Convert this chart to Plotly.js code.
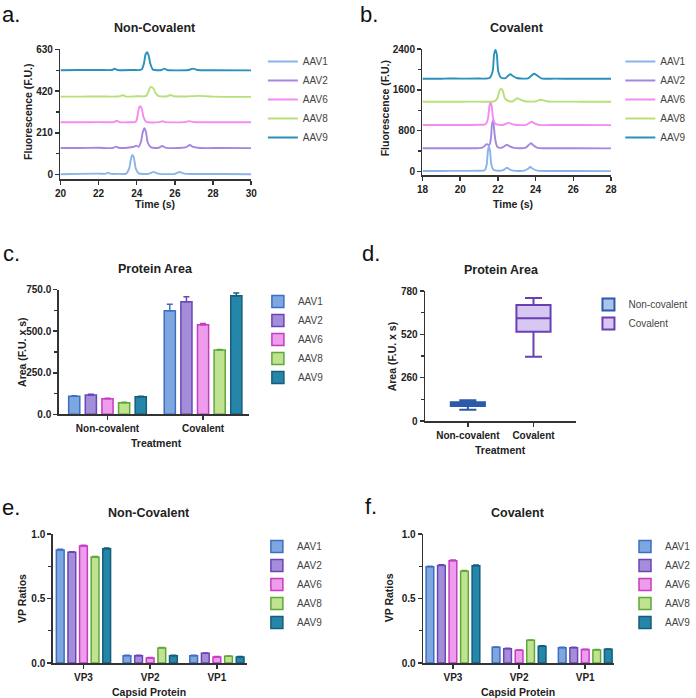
<!DOCTYPE html>
<html>
<head>
<meta charset="utf-8">
<script src="https://cdn.plot.ly/plotly-3.0.1.min.js"></script>
<style>html,body{margin:0;padding:0;background:#fff;}#chart{width:696px;height:698px;}</style>
</head>
<body>
<div id="chart"></div>
<script>
// ---------- DATA ----------
var serotypes = ['AAV1', 'AAV2', 'AAV6', 'AAV8', 'AAV9'];

// Panel a: Non-Covalent electropherograms (time s, fluorescence F.U., stacked)
var aTime1 = [20, 21, 22, 22.35, 22.5, 22.65, 23, 23.45, 23.6, 23.7, 23.77, 23.85, 23.95, 24.1, 24.6, 24.75, 24.88, 25.0, 25.2, 26.0, 26.12, 26.24, 26.36, 26.6, 27.5, 28.5, 30];
var aFlu1  = [2, 4, 5, 4, 10, 4, 4, 5, 30, 80, 99, 85, 30, 6, 4, 9, 14, 9, 4, 4, 9, 13, 9, 4, 3, 3, 2];
var aTime2 = [20, 21, 22, 22.75, 22.9, 23.05, 23.5, 23.85, 23.97, 24.1, 24.22, 24.32, 24.4, 24.48, 24.58, 24.75, 25.15, 25.34, 25.5, 26.2, 26.6, 26.78, 26.95, 27.3, 28.5, 30];
var aFlu2  = [134, 134, 135, 134, 141, 135, 135, 140, 146, 140, 165, 215, 233, 215, 160, 137, 135, 144, 136, 134, 138, 149, 139, 134, 134, 133];
var aTime6 = [20, 21, 22, 22.8, 22.94, 23.1, 23.6, 23.95, 24.05, 24.12, 24.19, 24.27, 24.35, 24.5, 25.2, 25.35, 25.5, 26.5, 26.75, 27.0, 28, 30];
var aFlu6  = [263, 263, 264, 264, 271, 264, 263, 266, 300, 335, 344, 330, 290, 265, 264, 268, 264, 264, 269, 264, 263, 263];
var aTime8 = [20, 21, 22, 23, 23.3, 23.4, 24, 24.5, 24.62, 24.7, 24.78, 24.88, 24.98, 25.15, 25.6, 25.76, 25.95, 26.6, 27.27, 28, 30];
var aFlu8  = [392, 392, 393, 393, 399, 393, 394, 396, 420, 438, 441, 432, 410, 395, 394, 400, 394, 393, 396, 392, 391];
var aTime9 = [20, 21, 22, 22.7, 22.84, 23, 23.8, 24.25, 24.38, 24.46, 24.54, 24.62, 24.72, 24.85, 25.3, 25.45, 25.6, 26.7, 26.96, 27.2, 28, 30];
var aFlu9  = [525, 526, 526, 526, 532, 526, 526, 528, 560, 605, 616, 600, 555, 528, 526, 533, 526, 526, 533, 526, 525, 524];

// Panel b: Covalent electropherograms
var bTime1 = [18, 19, 20, 21, 21.3, 21.4, 21.47, 21.52, 21.58, 21.66, 21.78, 22.2, 22.36, 22.48, 22.6, 22.8, 23.4, 23.6, 23.72, 23.84, 24.1, 25, 26, 28];
var bFlu1  = [6, 6, 8, 10, 20, 120, 400, 496, 400, 120, 25, 12, 40, 71, 40, 12, 12, 50, 84, 50, 12, 6, 5, 4];
var bTime2 = [18, 19, 20, 21, 21.2, 21.41, 21.55, 21.63, 21.68, 21.73, 21.78, 21.85, 21.97, 22.2, 22.36, 22.48, 22.6, 22.85, 23.45, 23.62, 23.75, 23.88, 24.1, 25, 26, 28];
var bFlu2  = [451, 451, 452, 455, 470, 530, 520, 650, 900, 987, 900, 650, 480, 462, 495, 522, 495, 460, 458, 510, 549, 510, 460, 452, 451, 450];
var bTime6 = [18, 19, 20, 21, 21.35, 21.47, 21.55, 21.61, 21.67, 21.75, 21.88, 22.3, 22.45, 22.56, 22.68, 22.9, 23.5, 23.66, 23.79, 23.92, 24.15, 25, 26, 28];
var bFlu6  = [908, 908, 909, 912, 925, 1030, 1280, 1366, 1280, 1030, 925, 912, 935, 954, 935, 912, 912, 945, 973, 945, 912, 908, 907, 906];
var bTime8 = [18, 19, 20, 21, 21.8, 21.98, 22.08, 22.17, 22.26, 22.36, 22.55, 22.8, 22.93, 23.05, 23.17, 23.4, 24.0, 24.15, 24.28, 24.41, 24.65, 25.5, 26.5, 28];
var bFlu8  = [1366, 1366, 1366, 1368, 1372, 1440, 1580, 1621, 1580, 1440, 1380, 1375, 1410, 1432, 1410, 1375, 1370, 1392, 1405, 1392, 1370, 1367, 1366, 1365];
var bTime9 = [18, 19, 19.4, 20, 21, 21.55, 21.72, 21.8, 21.87, 21.94, 22.02, 22.18, 22.4, 22.54, 22.66, 22.78, 23.0, 23.6, 23.8, 23.93, 24.06, 24.3, 25, 26, 28];
var bFlu9  = [1817, 1817, 1822, 1818, 1820, 1830, 1960, 2300, 2380, 2300, 1960, 1835, 1830, 1875, 1903, 1875, 1830, 1825, 1885, 1915, 1885, 1825, 1818, 1817, 1816];

// Panel c: Protein Area by treatment (mean, error)
var treatments = ['Non-covalent', 'Covalent'];
var areaAAV1 = [108, 624], areaErrAAV1 = [4, 38];
var areaAAV2 = [116, 678], areaErrAAV2 = [4, 30];
var areaAAV6 = [94, 539],  areaErrAAV6 = [3, 8];
var areaAAV8 = [70, 387],  areaErrAAV8 = [3, 3];
var areaAAV9 = [106, 714], areaErrAAV9 = [3, 16];

// Panel d: box summary (F.U. x s)
var boxLower  = [68, 386];
var boxQ1     = [90, 536];
var boxMedian = [100, 616];
var boxQ3     = [112, 696];
var boxUpper  = [124, 738];

// Panels e, f: VP ratios
var capsid = ['VP3', 'VP2', 'VP1'];
var ncAAV1 = [0.876, 0.057, 0.057];
var ncAAV2 = [0.858, 0.057, 0.075];
var ncAAV6 = [0.907, 0.039, 0.047];
var ncAAV8 = [0.821, 0.117, 0.052];
var ncAAV9 = [0.886, 0.057, 0.047];
var cvAAV1 = [0.746, 0.122, 0.119];
var cvAAV2 = [0.756, 0.111, 0.119];
var cvAAV6 = [0.793, 0.098, 0.104];
var cvAAV8 = [0.712, 0.176, 0.101];
var cvAAV9 = [0.754, 0.130, 0.106];
var vpErr  = [0.006, 0.004, 0.004];

// ---------- STYLE ----------
var W = 696, H = 698;
function px(x) { return x / W; }
function py(y) { return 1 - y / H; }
var FONT = 'Liberation Sans, Arial, Helvetica, sans-serif';
var lineColors = ['#8ab4e8', '#a487e0', '#f28cf0', '#b5e07a', '#2a90bd'];
var fillColors = ['#7ea6df', '#a58ed8', '#ee9ded', '#bfe391', '#2487aa'];
var edgeColors = ['#3d6ec4', '#6b44b9', '#c43cc0', '#5ea83a', '#155d7a'];

var traces = [];
var aT = [aTime1, aTime2, aTime6, aTime8, aTime9], aF = [aFlu1, aFlu2, aFlu6, aFlu8, aFlu9];
var bT = [bTime1, bTime2, bTime6, bTime8, bTime9], bF = [bFlu1, bFlu2, bFlu6, bFlu8, bFlu9];
for (var i = 0; i < 5; i++) {
  traces.push({type: 'scatter', mode: 'lines', x: aT[i], y: aF[i], name: serotypes[i],
    line: {color: lineColors[i], width: 1.9, shape: 'spline', smoothing: 0.7},
    xaxis: 'x', yaxis: 'y', legend: 'legend'});
}
for (var i = 0; i < 5; i++) {
  traces.push({type: 'scatter', mode: 'lines', x: bT[i], y: bF[i], name: serotypes[i],
    line: {color: lineColors[i], width: 1.9, shape: 'spline', smoothing: 0.7},
    xaxis: 'x2', yaxis: 'y2', legend: 'legend2'});
}
var areaVals = [areaAAV1, areaAAV2, areaAAV6, areaAAV8, areaAAV9];
var areaErrs = [areaErrAAV1, areaErrAAV2, areaErrAAV6, areaErrAAV8, areaErrAAV9];
for (var i = 0; i < 5; i++) {
  traces.push({type: 'bar', x: treatments, y: areaVals[i], name: serotypes[i],
    marker: {color: fillColors[i], line: {color: edgeColors[i], width: 1.5}},
    error_y: {type: 'data', array: areaErrs[i], arrayminus: [0, 0], symmetric: false,
      color: edgeColors[i], thickness: 1.5, width: 3},
    xaxis: 'x3', yaxis: 'y3', legend: 'legend3'});
}
var boxFill = ['#aac4ea', '#d6c8f0'], boxLine = ['#2b5ba8', '#6a3fb5'];
for (var j = 0; j < 2; j++) {
  traces.push({type: 'box', x: [treatments[j]], q1: [boxQ1[j]], median: [boxMedian[j]], q3: [boxQ3[j]],
    lowerfence: [boxLower[j]], upperfence: [boxUpper[j]], name: treatments[j],
    fillcolor: boxFill[j], line: {color: boxLine[j], width: 2}, width: 0.52, whiskerwidth: 0.5,
    boxpoints: false, hoverinfo: 'skip',
    xaxis: 'x4', yaxis: 'y4', legend: 'legend4'});
}
var ncVals = [ncAAV1, ncAAV2, ncAAV6, ncAAV8, ncAAV9];
var cvVals = [cvAAV1, cvAAV2, cvAAV6, cvAAV8, cvAAV9];
for (var i = 0; i < 5; i++) {
  traces.push({type: 'bar', x: capsid, y: ncVals[i], name: serotypes[i],
    marker: {color: fillColors[i], line: {color: edgeColors[i], width: 1.5}},
    error_y: {type: 'data', array: vpErr, arrayminus: [0, 0, 0], symmetric: false,
      color: edgeColors[i], thickness: 1.2, width: 3},
    xaxis: 'x5', yaxis: 'y5', legend: 'legend5'});
}
for (var i = 0; i < 5; i++) {
  traces.push({type: 'bar', x: capsid, y: cvVals[i], name: serotypes[i],
    marker: {color: fillColors[i], line: {color: edgeColors[i], width: 1.5}},
    error_y: {type: 'data', array: vpErr, arrayminus: [0, 0, 0], symmetric: false,
      color: edgeColors[i], thickness: 1.2, width: 3},
    xaxis: 'x6', yaxis: 'y6', legend: 'legend6'});
}

// ---------- AXES ----------
var tickFont = {family: FONT, size: 10, color: '#222', weight: 700};
function ax(extra) {
  var base = {showgrid: false, zeroline: false, showline: true, linecolor: '#333', linewidth: 1.5,
    ticks: 'outside', ticklen: 4, tickwidth: 1.5, tickcolor: '#333', tickfont: tickFont,
    fixedrange: true};
  for (var k in extra) base[k] = extra[k];
  return base;
}
function minor(d) { return {dtick: d, ticks: 'outside', ticklen: 3, tickwidth: 1.2, tickcolor: '#333'}; }

function legendAt(textX, topY) {
  return {x: px(textX - 40), y: py(topY), xanchor: 'left', yanchor: 'top',
    bgcolor: 'rgba(0,0,0,0)', borderwidth: 0,
    font: {family: FONT, size: 10, color: '#444'}};
}

function ann(text, x, y, size, bold, angle, color) {
  return {text: text, x: px(x), y: py(y), xref: 'paper', yref: 'paper', showarrow: false,
    xanchor: 'center', yanchor: 'middle', textangle: angle || 0,
    font: {family: FONT, size: size, color: color || '#222', weight: bold ? 700 : 400}};
}
function letter(text, x, y) {
  var a = ann(text, x, y, 22, false, 0, '#111');
  a.xanchor = 'left';
  return a;
}

var annotations = [
  letter('a.', 0, 15), letter('b.', 360, 15), letter('c.', 1, 254),
  letter('d.', 362, 253), letter('e.', 0, 507), letter('f.', 365, 506),
  ann('Non-Covalent', 156, 28, 12.5, true), ann('Covalent', 519, 28, 12.5, true),
  ann('Protein Area', 156, 269, 12.5, true), ann('Protein Area', 504, 270, 12.5, true),
  ann('Non-Covalent', 150, 513, 12.5, true), ann('Covalent', 520, 513, 12.5, true),
  ann('Time (s)', 156, 204, 10.5, true), ann('Time (s)', 515, 204, 10.5, true),
  ann('Fluorescence (F.U.)', 28, 112, 10.5, true, -90), ann('Fluorescence (F.U.)', 387, 108, 10.5, true, -90),
  ann('Treatment', 157, 443, 10.5, true), ann('Treatment', 503, 450, 10.5, true),
  ann('Area (F.U. x s)', 22, 352, 10.5, true, -90), ann('Area (F.U. x s)', 394, 357, 10.5, true, -90),
  ann('Capsid Protein', 150, 692, 10.5, true), ann('Capsid Protein', 520, 692, 10.5, true),
  ann('VP Ratios', 22, 598, 10.5, true, -90), ann('VP Ratios', 391, 598, 10.5, true, -90)
];

var layout = {
  width: W, height: H, margin: {l: 0, r: 0, t: 0, b: 0},
  paper_bgcolor: '#fff', plot_bgcolor: '#fff',
  showlegend: true, barmode: 'group', bargap: 0.13, bargroupgap: 0.33,
  annotations: annotations,
  xaxis:  ax({domain: [px(60.7), px(252.3)], range: [20, 30], dtick: 2, tick0: 20, anchor: 'y'}),
  yaxis:  ax({domain: [py(179), py(49.3)], range: [-22, 630], dtick: 210, tick0: 0, anchor: 'x', minor: minor(105)}),
  xaxis2: ax({domain: [px(424.3), px(613.7)], range: [18, 28], dtick: 2, tick0: 18, anchor: 'y2'}),
  yaxis2: ax({domain: [py(175), py(49)], range: [-73, 2400], dtick: 800, tick0: 0, anchor: 'x2', minor: minor(400)}),
  xaxis3: ax({domain: [px(59), px(250)], type: 'category', range: [-0.51, 1.48], anchor: 'y3'}),
  yaxis3: ax({domain: [py(414.3), py(289.7)], range: [0, 750], dtick: 250, tick0: 0, tickformat: '.1f', anchor: 'x3', minor: minor(125)}),
  xaxis4: ax({domain: [px(427), px(578)], type: 'category', range: [-0.65, 1.64], anchor: 'y4'}),
  yaxis4: ax({domain: [py(421), py(291)], range: [0, 780], dtick: 260, tick0: 0, anchor: 'x4', minor: minor(130)}),
  xaxis5: ax({domain: [px(53), px(248)], type: 'category', range: [-0.46, 2.45], anchor: 'y5'}),
  yaxis5: ax({domain: [py(663), py(534)], range: [0, 1], dtick: 0.5, tick0: 0, tickformat: '.1f', anchor: 'x5', minor: minor(0.25)}),
  xaxis6: ax({domain: [px(425), px(617)], type: 'category', range: [-0.45, 2.44], anchor: 'y6'}),
  yaxis6: ax({domain: [py(663), py(534)], range: [0, 1], dtick: 0.5, tick0: 0, tickformat: '.1f', anchor: 'x6', minor: minor(0.25)}),
  legend:  legendAt(304, 47),
  legend2: legendAt(663, 47),
  legend3: legendAt(299, 287),
  legend4: legendAt(631, 290),
  legend5: legendAt(298, 532),
  legend6: legendAt(668, 532)
};

Plotly.newPlot('chart', traces, layout, {staticPlot: true, displayModeBar: false});
</script>
</body>
</html>
